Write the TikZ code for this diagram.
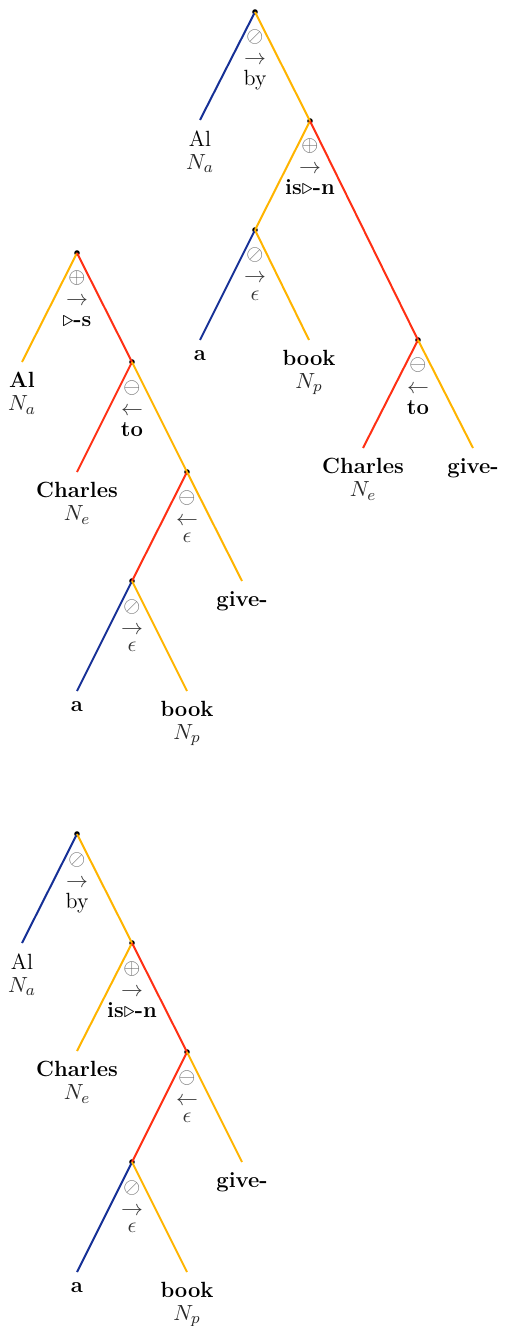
\documentclass[tikz,border=0pt]{standalone}
\usepackage{amssymb}
\definecolor{cblue}{RGB}{22,48,150}
\definecolor{cyel}{RGB}{255,180,0}
\definecolor{cred}{RGB}{255,48,20}
\definecolor{cgrey}{RGB}{105,105,105}
\definecolor{carr}{RGB}{55,55,55}
\definecolor{cdark}{RGB}{40,40,40}
\tikzset{
 dot/.style={circle,fill=black,inner sep=0pt,minimum size=2.8pt},
 lb/.style={draw=cblue,line width=1pt},
 ly/.style={draw=cyel,line width=1pt},
 lr/.style={draw=cred,line width=1pt},
 leaf/.style={anchor=north,inner sep=0pt,align=center,yshift=-5pt},
 sym/.style={anchor=base,inner sep=0pt,text=cgrey,yshift=-15.5pt},
 arr/.style={anchor=base,inner sep=0pt,text=carr,yshift=-26.5pt},
 wd/.style={anchor=base,inner sep=0pt,yshift=-37pt},
 ep/.style={anchor=base,inner sep=0pt,text=carr,yshift=-35pt},
}
\newcommand{\Nsub}[1]{\textcolor{cdark}{$N_{#1}$}}
\begin{document}
\begin{tikzpicture}[x=0.5pt,y=-0.5pt,font=\fontsize{11}{11.5}\selectfont]
\useasboundingbox (0,0) rectangle (504,1326);
% ---------------- Tree 1 ----------------
\node[dot] (A0) at (255,12) {};
\node[dot] (A1) at (310,121) {};
\node[dot] (A2) at (255,230) {};
\node[dot] (A3) at (418,340) {};
\coordinate (Aal) at (200,120);
\coordinate (Aa) at (200,340);
\coordinate (Abook) at (309,340);
\coordinate (Ach) at (363,448);
\coordinate (Agive) at (473,448);
\draw[lb] (A0.center) -- (Aal);
\draw[ly] (A0.center) -- (A1.center);
\draw[ly] (A1.center) -- (A2.center);
\draw[lr] (A1.center) -- (A3.center);
\draw[lb] (A2.center) -- (Aa);
\draw[ly] (A2.center) -- (Abook);
\draw[lr] (A3.center) -- (Ach);
\draw[ly] (A3.center) -- (Agive);
\node[sym] (A0s) at (A0) {$\oslash$};
\node[arr] (A0r) at (A0) {$\rightarrow$};
\node[wd] (A0w) at (A0) {by};
\node[sym] (A1s) at (A1) {$\oplus$};
\node[arr] (A1r) at (A1) {$\rightarrow$};
\node[wd] (A1w) at (A1) {\textbf{is$\triangleright$-n}};
\node[sym] (A2s) at (A2) {$\oslash$};
\node[arr] (A2r) at (A2) {$\rightarrow$};
\node[ep] (A2w) at (A2) {$\epsilon$};
\node[sym] (A3s) at (A3) {$\ominus$};
\node[arr] (A3r) at (A3) {$\leftarrow$};
\node[wd] (A3w) at (A3) {\textbf{to}};
\node[leaf] (AalT) at (Aal) {Al\\\Nsub{a}};
\node[leaf] (AaT) at (Aa) {\textbf{a}};
\node[leaf] (AbookT) at (Abook) {\textbf{book}\\\Nsub{p}};
\node[leaf] (AchT) at (Ach) {\textbf{Charles}\\\Nsub{e}};
\node[leaf] (AgiveT) at (Agive) {\textbf{give-}};
% ---------------- Tree 2 ----------------
\node[dot] (B0) at (77,253) {};
\node[dot] (B1) at (132,362) {};
\node[dot] (B2) at (187,472) {};
\node[dot] (B3) at (132,581) {};
\coordinate (Bal) at (22,362);
\coordinate (Bch) at (77,472);
\coordinate (Bgive) at (242,581);
\coordinate (Ba) at (77,691);
\coordinate (Bbook) at (187,691);
\draw[ly] (B0.center) -- (Bal);
\draw[lr] (B0.center) -- (B1.center);
\draw[lr] (B1.center) -- (Bch);
\draw[ly] (B1.center) -- (B2.center);
\draw[lr] (B2.center) -- (B3.center);
\draw[ly] (B2.center) -- (Bgive);
\draw[lb] (B3.center) -- (Ba);
\draw[ly] (B3.center) -- (Bbook);
\node[sym] (B0s) at (B0) {$\oplus$};
\node[arr] (B0r) at (B0) {$\rightarrow$};
\node[wd] (B0w) at (B0) {\textbf{$\triangleright$-s}};
\node[sym] (B1s) at (B1) {$\ominus$};
\node[arr] (B1r) at (B1) {$\leftarrow$};
\node[wd] (B1w) at (B1) {\textbf{to}};
\node[sym] (B2s) at (B2) {$\ominus$};
\node[arr] (B2r) at (B2) {$\leftarrow$};
\node[ep] (B2w) at (B2) {$\epsilon$};
\node[sym] (B3s) at (B3) {$\oslash$};
\node[arr] (B3r) at (B3) {$\rightarrow$};
\node[ep] (B3w) at (B3) {$\epsilon$};
\node[leaf] (BalT) at (Bal) {\textbf{Al}\\\Nsub{a}};
\node[leaf] (BchT) at (Bch) {\textbf{Charles}\\\Nsub{e}};
\node[leaf] (BgiveT) at (Bgive) {\textbf{give-}};
\node[leaf] (BaT) at (Ba) {\textbf{a}};
\node[leaf] (BbookT) at (Bbook) {\textbf{book}\\\Nsub{p}};
% ---------------- Tree 3 ----------------
\node[dot] (C0) at (77,834) {};
\node[dot] (C1) at (132,943) {};
\node[dot] (C2) at (187,1052) {};
\node[dot] (C3) at (132,1162) {};
\coordinate (Cal) at (22,943);
\coordinate (Cch) at (77,1051);
\coordinate (Cgive) at (242,1162);
\coordinate (Ca) at (77,1272);
\coordinate (Cbook) at (187,1272);
\draw[lb] (C0.center) -- (Cal);
\draw[ly] (C0.center) -- (C1.center);
\draw[ly] (C1.center) -- (Cch);
\draw[lr] (C1.center) -- (C2.center);
\draw[lr] (C2.center) -- (C3.center);
\draw[ly] (C2.center) -- (Cgive);
\draw[lb] (C3.center) -- (Ca);
\draw[ly] (C3.center) -- (Cbook);
\node[sym] (C0s) at (C0) {$\oslash$};
\node[arr] (C0r) at (C0) {$\rightarrow$};
\node[wd] (C0w) at (C0) {by};
\node[sym] (C1s) at (C1) {$\oplus$};
\node[arr] (C1r) at (C1) {$\rightarrow$};
\node[wd] (C1w) at (C1) {\textbf{is$\triangleright$-n}};
\node[sym] (C2s) at (C2) {$\ominus$};
\node[arr] (C2r) at (C2) {$\leftarrow$};
\node[ep] (C2w) at (C2) {$\epsilon$};
\node[sym] (C3s) at (C3) {$\oslash$};
\node[arr] (C3r) at (C3) {$\rightarrow$};
\node[ep] (C3w) at (C3) {$\epsilon$};
\node[leaf] (CalT) at (Cal) {Al\\\Nsub{a}};
\node[leaf] (CchT) at (Cch) {\textbf{Charles}\\\Nsub{e}};
\node[leaf] (CgiveT) at (Cgive) {\textbf{give-}};
\node[leaf] (CaT) at (Ca) {\textbf{a}};
\node[leaf] (CbookT) at (Cbook) {\textbf{book}\\\Nsub{p}};
\end{tikzpicture}
\end{document}
